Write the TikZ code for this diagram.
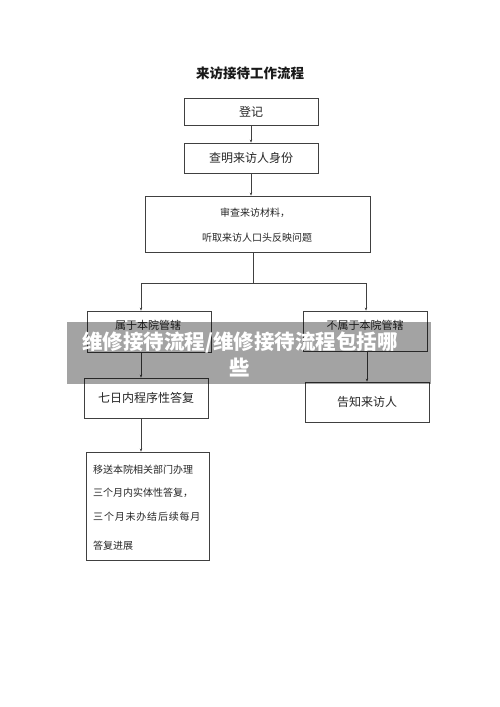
\documentclass[tikz,border=0pt]{standalone}
\usepackage{fontspec}
\newfontfamily\cjk{Noto Sans CJK SC}
\IfFontExistsTF{Noto Sans CJK SC Black}{\newfontfamily\cjkheavy{Noto Sans CJK SC Black}}{\newfontfamily\cjkheavy[FakeBold=1.2]{Noto Sans CJK SC}}
\usetikzlibrary{arrows.meta}
\begin{document}
\begin{tikzpicture}[x=1pt,y=-1pt,
  box/.style={draw=black!75,line width=0.8pt,inner sep=0pt,font=\cjk\fontsize{12}{14}\selectfont,text=black!85},
  conn/.style={draw=black!75,line width=0.8pt},
  arr/.style={conn,-{Stealth[length=3pt,width=2.5pt]}},
  lbl/.style={font=\cjk\fontsize{10}{12}\selectfont,text=black!85,inner sep=0pt}]
\useasboundingbox[fill=white] (0,0) rectangle (500,707);
\node[font=\cjk\bfseries\fontsize{13.5}{15}\selectfont,text=black!90] (title) at (250,73) {来访接待工作流程};
\node[box,minimum width=134pt,minimum height=27pt] (reg) at (251,111.5) {登记};
\node[box,minimum width=134pt,minimum height=30pt] (id) at (251,158) {查明来访人身份};
\node[box,minimum width=225pt,minimum height=56pt] (rev) at (257.5,224) {};
\node[lbl] (rev1) at (255,213) {审查来访材料，};
\node[lbl] (rev2) at (257,238) {听取来访人口头反映问题};
\node[box,minimum width=124pt,minimum height=41pt,font=\cjk\fontsize{11}{13}\selectfont] (yes) at (149,331.5) {};
\node[lbl,font=\cjk\fontsize{11}{13}\selectfont] (yest) at (148,325) {属于本院管辖};
\node[box,minimum width=124pt,minimum height=40pt] (no) at (365,331) {};
\node[lbl,font=\cjk\fontsize{11}{13}\selectfont] (not) at (365,325) {不属于本院管辖};
\node[box,minimum width=124pt,minimum height=40pt] (seven) at (146,398) {七日内程序性答复};
\node[box,minimum width=124pt,minimum height=40pt] (tell) at (367,402) {告知来访人};
\node[box,minimum width=123pt,minimum height=108pt] (move) at (147.5,506) {};
\node[lbl,anchor=west] (m1) at (93,470) {移送本院相关部门办理};
\node[lbl,anchor=west] (m2) at (93,493) {三个月内实体性答复，};
\node[lbl,anchor=west] (m3) at (93,517) {三\hspace{0.8pt}个\hspace{0.8pt}月\hspace{0.8pt}未\hspace{0.8pt}办\hspace{0.8pt}结\hspace{0.8pt}后\hspace{0.8pt}续\hspace{0.8pt}每\hspace{0.8pt}月};
\node[lbl,anchor=west] (m4) at (93,546) {答复进展};
\coordinate (j) at (253,283);
\coordinate (jl) at (141,283);
\coordinate (jr) at (366,283);
\draw[arr] (reg.south -| 251,0) -- (id.north -| 251,0);
\draw[arr] (id.south -| 251,0) -- (rev.north -| 251,0);
\draw[conn] (rev.south -| j) -- (j);
\draw[conn] (jl) -- (jr);
\draw[arr] (jl) -- (yes.north -| jl);
\draw[arr] (jr) -- (no.north -| jr);
\draw[arr] (yes.south -| 141,0) -- (seven.north -| 141,0);
\draw[arr] (no.south -| 367,0) -- (tell.north -| 367,0);
\draw[arr] (seven.south -| 141,0) -- (move.north -| 141,0);
\fill[black,opacity=0.36] (67,322) rectangle (431,384);
\node[font=\cjkheavy\fontsize{20.5}{26}\selectfont,text=white,align=center] (banner) at (240,354) {维修接待流程/维修接待流程包括哪\\些};
\end{tikzpicture}
\end{document}
